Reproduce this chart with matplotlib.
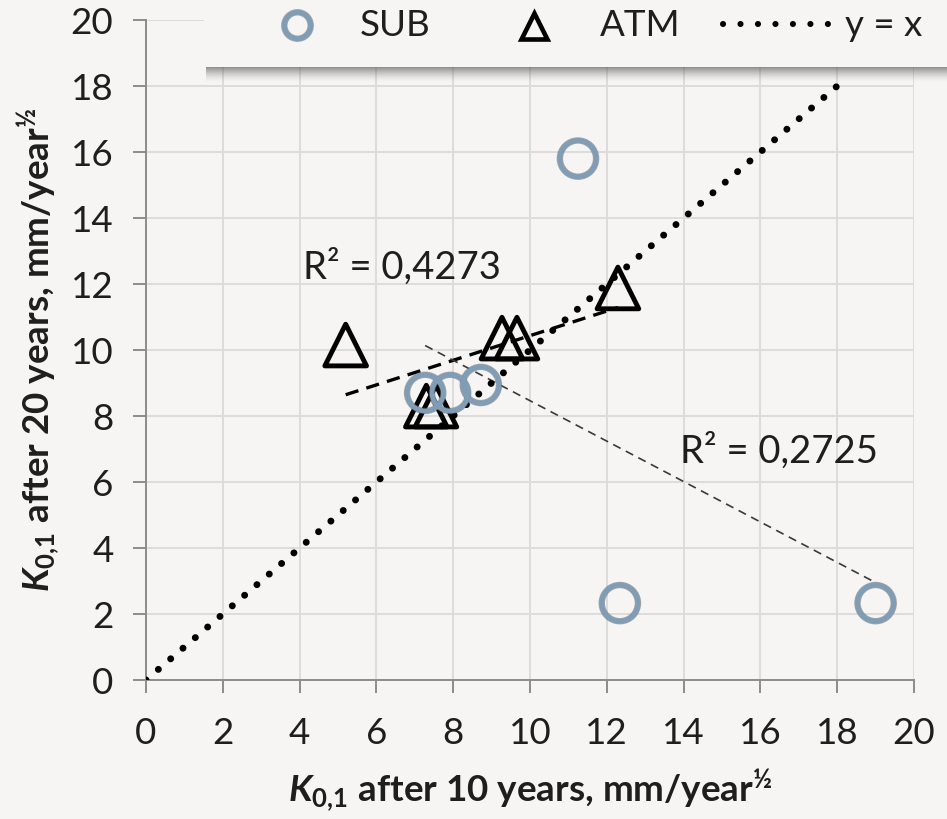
import numpy as np
import matplotlib
matplotlib.use("Agg")
import matplotlib.pyplot as plt
from matplotlib.patches import Rectangle
from matplotlib.lines import Line2D

plt.rcParams['font.family'] = ['Lato', 'DejaVu Sans']
plt.rcParams['mathtext.fontset'] = 'custom'
plt.rcParams['mathtext.rm'] = 'Lato'
plt.rcParams['mathtext.it'] = 'Lato:italic'
plt.rcParams['mathtext.bf'] = 'Lato:bold'
plt.rcParams['mathtext.bfit'] = 'Lato:bold:italic'

# Corrosion rate coefficients K0,1 (mm/year^0.5)
sub_k10 = [7.27, 7.92, 8.72, 11.25, 12.34, 19.0]
sub_k20 = [8.70, 8.70, 8.94, 15.80, 2.33, 2.33]
atm_k10 = [5.20, 7.30, 7.55, 9.27, 9.66, 12.29]
atm_k20 = [10.15, 8.30, 8.30, 10.36, 10.36, 11.88]
identity_range = [0, 18]
r2_atm_label = "R² = 0,4273"
r2_sub_label = "R² = 0,2725"
legend_labels = ['SUB', 'ATM', 'y = x']
ticks = list(range(0, 21, 2))

BG = '#f6f5f3'
INK = '#1e1e1e'
SUB_COLOR = '#7f9db6'
W, H = 947, 819

fig = plt.figure(figsize=(W / 100, H / 100), dpi=100, facecolor=BG)
ax = fig.add_axes([146 / W, 1 - 680 / H, 768 / W, 660 / H], facecolor=BG)

ax.set_xlim(0, 20)
ax.set_ylim(0, 20)
ax.set_xticks(ticks)
ax.set_yticks(ticks)
ax.grid(True, color='#dcdcdc', lw=1.4, zorder=0)
for s in ['top', 'right']:
    ax.spines[s].set_visible(False)
for s in ['left', 'bottom']:
    ax.spines[s].set_color('#8c8c8c')
    ax.spines[s].set_linewidth(1.4)
ax.tick_params(axis='both', direction='out', length=9.5, width=1.4, color='#8c8c8c',
               labelsize=26.5, labelcolor=INK)
ax.tick_params(axis='x', pad=17)
ax.tick_params(axis='y', pad=14)

# y = x reference line
ax.plot(identity_range, identity_range, color='black', lw=5,
        linestyle=(0, (0.01, 2.33)), dash_capstyle='round', zorder=3)

# linear trend lines
for xs, ys, kw in [(atm_k10, atm_k20, dict(color='black', lw=2.4, linestyle=(0, (4, 2.5)))),
                   (sub_k10, sub_k20, dict(color='#3a3a3a', lw=1.2, linestyle=(0, (5, 3.5))))]:
    m, b = np.polyfit(xs, ys, 1)
    xx = np.array([min(xs), max(xs)])
    ax.plot(xx, m * xx + b, zorder=2, **kw)

ax.scatter(atm_k10, atm_k20, marker='^', s=900, facecolors='none', edgecolors='black',
           linewidths=3.5, zorder=4)
ax.scatter(sub_k10, sub_k20, marker='o', s=680, facecolors='none', edgecolors='#5f6468',
           linewidths=4.6, alpha=0.55, zorder=5)
ax.scatter(sub_k10, sub_k20, marker='o', s=680, facecolors='none', edgecolors=SUB_COLOR,
           linewidths=3.4, zorder=5)

ax.text(4.09, 12.5, r2_atm_label, fontsize=27.5, color=INK, va='center', ha='left')
ax.text(13.9, 6.95, r2_sub_label, fontsize=27.5, color=INK, va='center', ha='left')

ax.set_xlabel(r"$\mathbfit{K}_{\mathbf{0{,}1}}$ after 10 years, mm/year$^{\mathbf{½}}$",
              fontsize=26.5, fontweight='bold', color=INK, labelpad=13)
ax.set_ylabel(r"$\mathbfit{K}_{\mathbf{0{,}1}}$ after 20 years, mm/year$^{\mathbf{½}}$",
              fontsize=26.5, fontweight='bold', color=INK, labelpad=6)

# legend panel across the top, in pixel coordinates
lg = fig.add_axes([0, 0, 1, 1], facecolor='none', zorder=3)
lg.set_xlim(0, W)
lg.set_ylim(H, 0)
lg.axis('off')
box_left, box_bottom = 204, 67
for i in range(15):
    lg.add_patch(Rectangle((box_left + 2, box_bottom + i), W - box_left, 1,
                           facecolor='#505050', alpha=0.6 * (1 - i / 15) ** 1.6,
                           edgecolor='none'))
lg.add_patch(Rectangle((box_left, 0), W - box_left, box_bottom,
                       facecolor=BG, edgecolor='none'))

ly = 25
lg.add_line(Line2D([297], [ly], marker='o', ms=19, mfc='none', mec='#5f6468', mew=4.6,
                   alpha=0.55))
lg.add_line(Line2D([297], [ly], marker='o', ms=19, mfc='none', mec=SUB_COLOR, mew=3.4))
lg.text(360, ly, legend_labels[0], fontsize=26.5, color=INK, va='center', ha='left')
lg.add_line(Line2D([534], [ly + 1], marker='^', ms=19, mfc='none', mec='black', mew=3.3))
lg.text(600, ly, legend_labels[1], fontsize=26.5, color=INK, va='center', ha='left')
lg.add_line(Line2D([723, 828], [ly - 1, ly - 1], color='black', lw=4.4,
                   ls=(0, (0.01, 2.85)), dash_capstyle='round'))
lg.text(845, ly, legend_labels[2], fontsize=26.5, color=INK, va='center', ha='left')

fig.savefig('out.png', dpi=100, facecolor=BG)
